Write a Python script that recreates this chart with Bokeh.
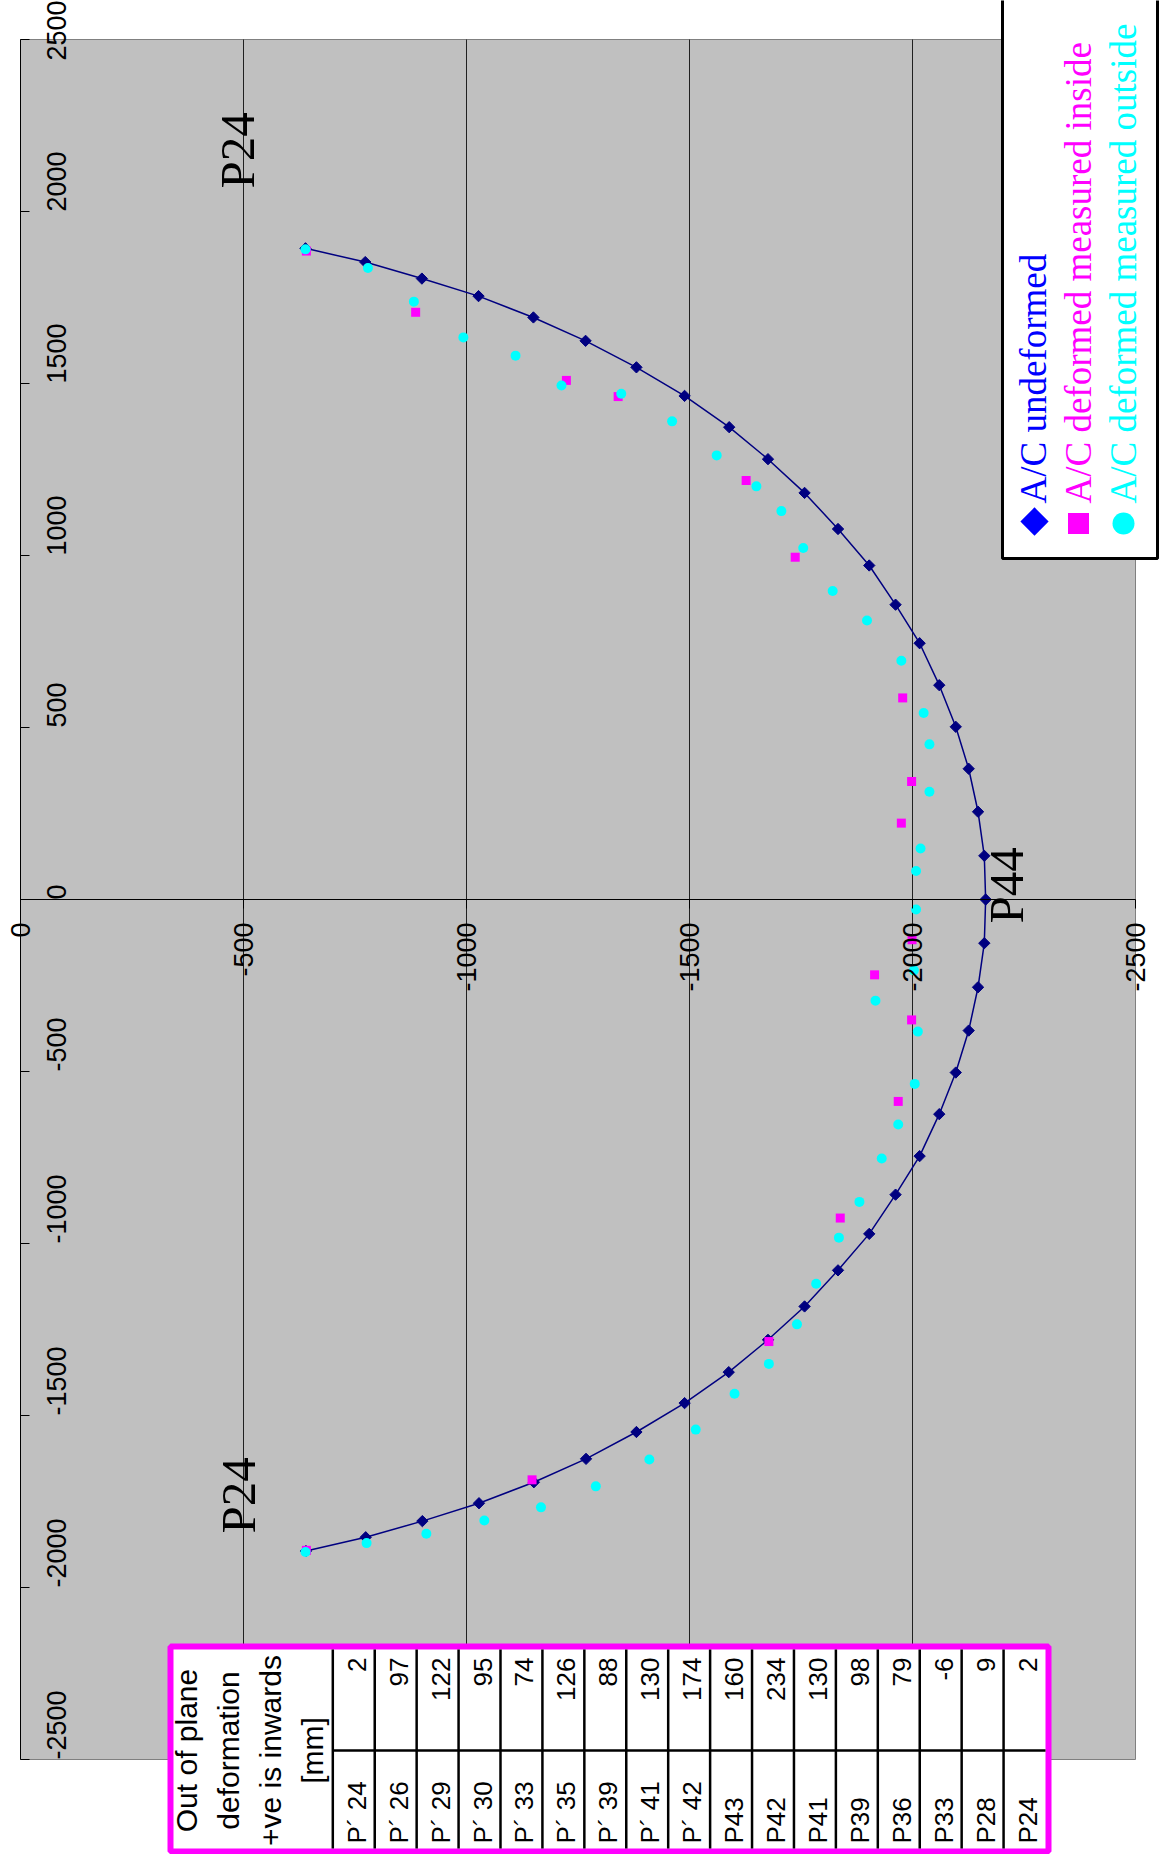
import math
from bokeh.plotting import figure
from bokeh.models import Range1d, LinearAxis, FixedTicker
from bokeh.core.properties import value
from bokeh.embed import file_html
from bokeh.resources import INLINE

# ---------------- data (original chart coordinates) ----------------
# x: position across the section [mm] (-2500 .. 2500), y: depth [mm] (0 .. -2500)
UND_X = [1893, 1853, 1805, 1754, 1692, 1624, 1547, 1464, 1373, 1280, 1182, 1077, 971, 857, 745,
         623, 502, 380, 255, 127, 0, -127, -255, -381, -503, -624, -746, -858, -972, -1078,
         -1183, -1280, -1374, -1464, -1548, -1626, -1694, -1755, -1807, -1854, -1894]
UND_Y = [-639, -773, -900, -1027, -1150, -1267, -1381, -1489, -1589, -1676, -1758, -1833, -1903,
         -1962, -2016, -2060, -2097, -2126, -2147, -2161, -2164, -2161, -2147, -2126, -2097, -2060,
         -2016, -1962, -1903, -1833, -1758, -1676, -1588, -1489, -1381, -1268, -1151, -1028, -901,
         -774, -640]

IN_X = [1885, 1707, 1509, 1462, 1218, 995, 586, 343, 222, -117, -219, -350, -587, -926, -1285,
        -1687, -1892]
IN_Y = [-641, -886, -1224, -1340, -1627, -1737, -1978, -1998, -1975, -1999, -1915, -1998, -1968,
        -1838, -1678, -1147, -641]

OUT_X = [1890, 1836, 1738, 1634, 1581, 1494, 1470, 1390, 1291, 1201, 1129, 1022, 897, 811, 694,
         542, 451, 313, 148, 83, -29, -206, -294, -384, -536, -654, -753, -879, -983, -1117,
         -1235, -1350, -1437, -1541, -1628, -1706, -1767, -1805, -1844, -1871, -1897]
OUT_Y = [-639, -779, -882, -993, -1110, -1213, -1347, -1461, -1561, -1650, -1706, -1755, -1821,
         -1898, -1975, -2025, -2038, -2038, -2018, -2008, -2008, -2003, -1917, -2012, -2005,
         -1968, -1931, -1881, -1835, -1784, -1741, -1678, -1601, -1514, -1410, -1290, -1167,
         -1040, -910, -776, -639]

X_TICKS = [-2500, -2000, -1500, -1000, -500, 0, 500, 1000, 1500, 2000, 2500]
Y_TICKS = [0, -500, -1000, -1500, -2000, -2500]

SERIES = ["A/C undeformed", "A/C deformed measured inside", "A/C deformed measured outside"]
POINT_LABELS = ["P24", "P24", "P44"]

TABLE_HEADER = ["Out of plane", "deformation", "+ve is inwards", "[mm]"]
TABLE_POINTS = ["P\u00b4 24", "P\u00b4 26", "P\u00b4 29", "P\u00b4 30", "P\u00b4 33", "P\u00b4 35",
                "P\u00b4 39", "P\u00b4 41", "P\u00b4 42", "P43", "P42", "P41", "P39", "P36",
                "P33", "P28", "P24"]
TABLE_DEFORM = [2, 97, 122, 95, 74, 126, 88, 130, 174, 160, 234, 130, 98, 79, -6, 9, 2]

# ---------------- layout (page pixels) ----------------
PAGE = 0
W, H = 1168, 1854
PL, PR = 20, 1135      # depth 0 .. -2500
PT, PB = 39, 1759      # position 2500 .. -2500

NAVY = "#000080"
MAG = "#FF00FF"
CYAN = "#00FFFF"
BLUE = "#0000FF"
SANS = "Liberation Sans"
SERIF = "Liberation Serif"


def dep(px):
    return -(px - PL) * 2500.0 / (PR - PL)


def pos(py):
    return 2500.0 - (py - PT) * 5000.0 / (PB - PT)


p = figure(width=W, height=H,
           x_range=Range1d(dep(PAGE), dep(PAGE + W)),
           y_range=Range1d(pos(PAGE + H), pos(PAGE)),
           output_backend="svg", toolbar_location=None,
           x_axis_type=None, y_axis_type=None, min_border=0)
p.outline_line_color = None
p.background_fill_color = "white"
p.border_fill_color = "white"
p.extra_x_ranges = {"px": Range1d(PAGE, PAGE + W)}
p.extra_y_ranges = {"px": Range1d(PAGE + H, PAGE)}

# plot area
p.quad(left=[Y_TICKS[0]], right=[Y_TICKS[-1]], bottom=[X_TICKS[0]], top=[X_TICKS[-1]],
       fill_color="#C0C0C0", line_color="#808080", line_width=1)
# vertical gridlines (depth ticks)
gv = Y_TICKS[1:-1]
p.segment(x0=gv, y0=[X_TICKS[0]] * len(gv), x1=gv, y1=[X_TICKS[-1]] * len(gv),
          line_color="#202020", line_width=1)

# axes
ax_x = LinearAxis(ticker=FixedTicker(ticks=X_TICKS), fixed_location=0, bounds=(X_TICKS[0], X_TICKS[-1]))
ax_y = LinearAxis(ticker=FixedTicker(ticks=Y_TICKS), fixed_location=0, bounds=(Y_TICKS[-1], Y_TICKS[0]))
for ax, ticks in ((ax_x, X_TICKS), (ax_y, Y_TICKS)):
    ax.axis_line_color = "#000000"
    ax.axis_line_width = 1
    ax.major_tick_out = 9
    ax.major_tick_in = 0
    ax.minor_tick_out = 0
    ax.minor_tick_in = 0
    ax.major_tick_line_color = "#000000"
    ax.major_label_orientation = math.pi / 2
    ax.major_label_text_font = SANS
    ax.major_label_text_font_size = "27px"
    ax.major_label_text_color = "#000000"
    ax.major_label_overrides = {t: str(t) for t in ticks}
ax_x.major_label_standoff = 27
ax_y.major_label_standoff = 14
p.add_layout(ax_x, "right")
p.add_layout(ax_y, "below")

# series (rotated: depth on screen-x, position on screen-y)
p.line(UND_Y, UND_X, line_color=NAVY, line_width=1.5)
p.scatter(UND_Y, UND_X, marker="square", angle=math.pi / 4, size=8,
          fill_color=NAVY, line_color=NAVY)
p.scatter(IN_Y, IN_X, marker="square", size=9, fill_color=MAG, line_color=None)
p.scatter(OUT_Y, OUT_X, marker="circle", size=10, fill_color=CYAN, line_color=None)

PX = dict(x_range_name="px", y_range_name="px")

# point labels
p.text(x=[237, 238, 1006], y=[188, 1533, 923], text=POINT_LABELS, angle=math.pi / 2,
       text_font=value(SERIF), text_font_size="49px", text_color="#000000",
       text_align="left", text_baseline="alphabetic", **PX)

# legend
p.quad(left=[1002], right=[1157], top=[-5], bottom=[558], fill_color="white",
       line_color="#000000", line_width=3, **PX)
p.scatter(x=[1034], y=[521], marker="square", angle=math.pi / 4, size=20,
          fill_color=BLUE, line_color=None, **PX)
p.scatter(x=[1078], y=[523], marker="square", size=21, fill_color=MAG, line_color=None, **PX)
p.scatter(x=[1123], y=[523], marker="circle", size=22, fill_color=CYAN, line_color=None, **PX)
p.text(x=[1033, 1078, 1123], y=[503, 503, 503], text=SERIES, angle=math.pi / 2,
       text_color=[BLUE, MAG, CYAN], text_font=value(SERIF), text_font_size="37px",
       text_align="left", text_baseline="alphabetic", **PX)

# table
T_L, T_R, T_T, T_B = 170, 1048, 1646, 1851
HEAD_R = 332.3
INNER_R = 1045
ROW_MID = 1750
n = len(TABLE_POINTS)
cw = (INNER_R - HEAD_R) / n
p.quad(left=[T_L], right=[T_R], top=[T_T], bottom=[T_B], fill_color="white",
       line_color=MAG, line_width=6, **PX)
cols = [HEAD_R + i * cw for i in range(n)]
p.segment(x0=cols, y0=[T_T + 3] * n, x1=cols, y1=[T_B - 3] * n,
          line_color="#000000", line_width=2.5, **PX)
p.segment(x0=[HEAD_R], y0=[ROW_MID], x1=[INNER_R], y1=[ROW_MID],
          line_color="#000000", line_width=2.5, **PX)
p.text(x=[c + 24 for c in cols], y=[1657] * n, text=[str(v) for v in TABLE_DEFORM],
       angle=math.pi / 2, text_font=value(SANS), text_font_size="26px", text_color="#000000",
       text_align="right", text_baseline="alphabetic", **PX)
p.text(x=[c + 24 for c in cols], y=[1843] * n, text=TABLE_POINTS,
       angle=math.pi / 2, text_font=value(SANS), text_font_size="26px", text_color="#000000",
       text_align="left", text_baseline="alphabetic", **PX)
p.text(x=[186, 228, 270, 312], y=[1750] * 4, text=TABLE_HEADER,
       angle=math.pi / 2, text_font=value(SANS), text_font_size="30px", text_color="#000000",
       text_align="center", text_baseline="alphabetic", **PX)

open("out.html", "w").write(file_html(p, INLINE))
